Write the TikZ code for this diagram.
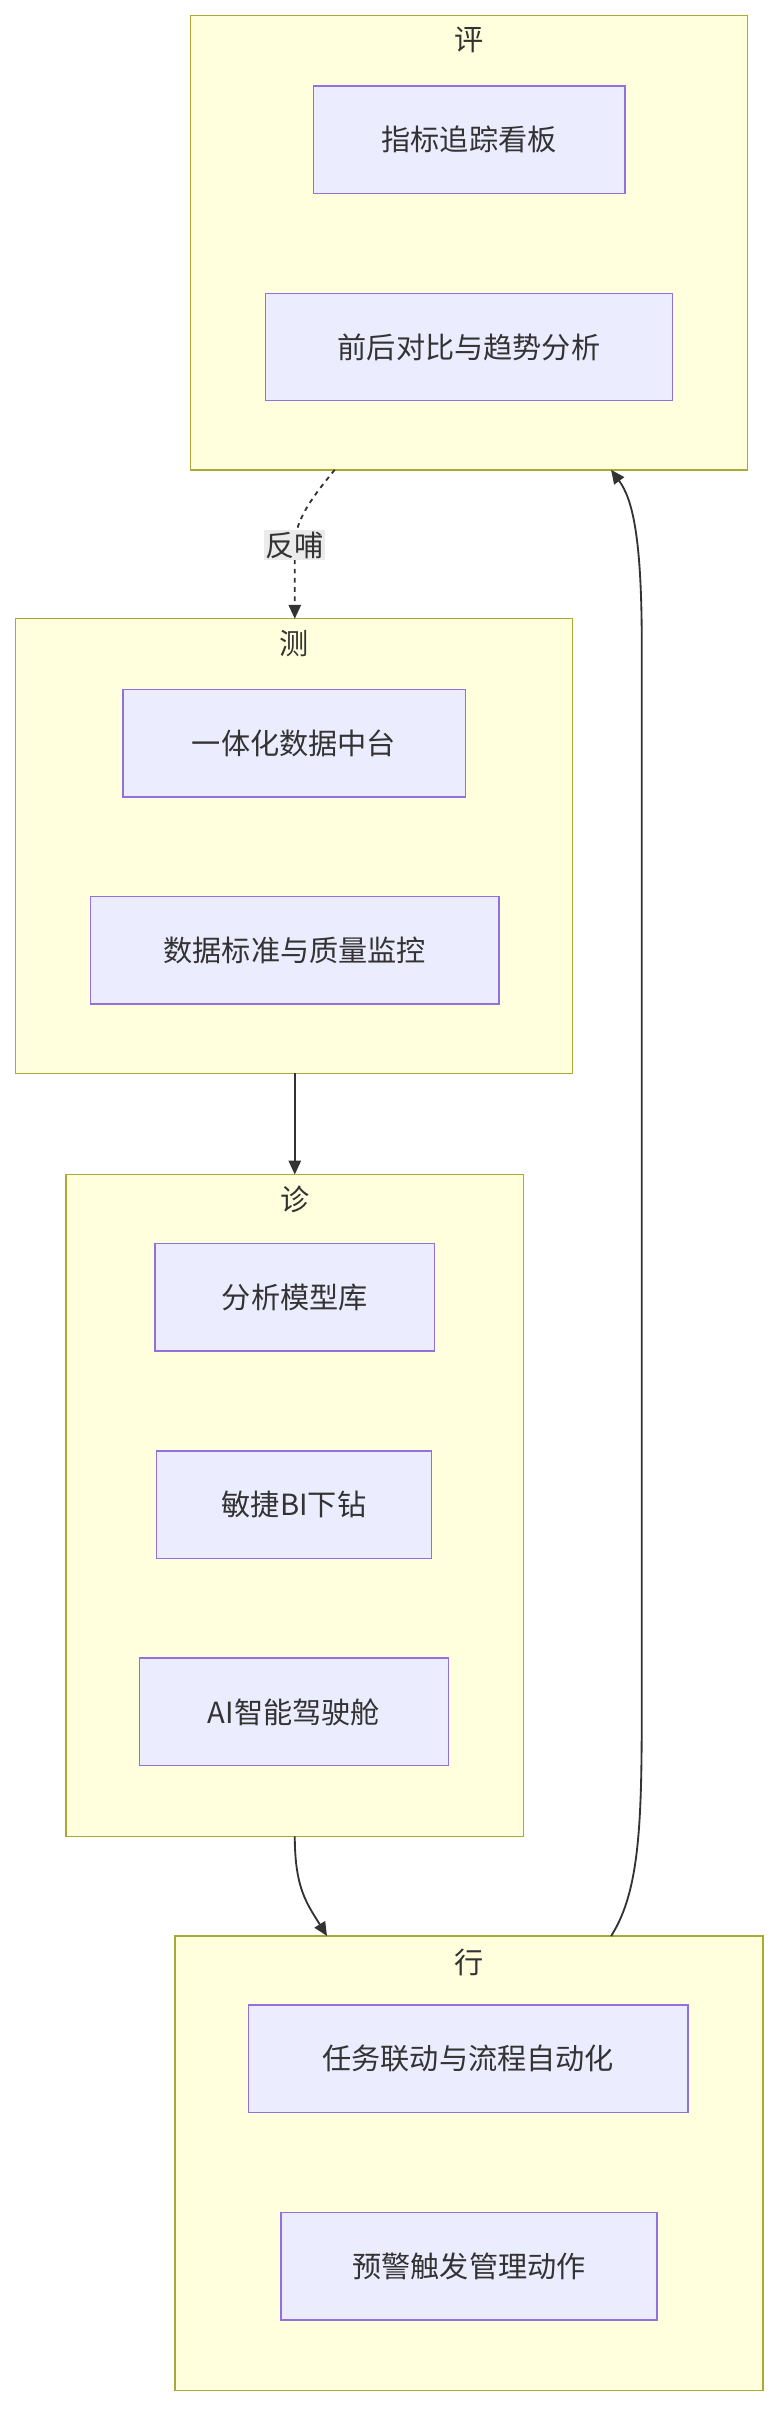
\documentclass[tikz,border=0pt]{standalone}
\usepackage{fontspec}
\newfontfamily\cjk{Noto Sans CJK SC}
\usetikzlibrary{arrows.meta}
\definecolor{clfill}{HTML}{FFFFDE}
\definecolor{cldraw}{HTML}{AAAA33}
\definecolor{ndfill}{HTML}{ECECFF}
\definecolor{nddraw}{HTML}{9370DB}
\definecolor{edge}{HTML}{333333}
\tikzset{
  clus/.style={draw=cldraw,fill=clfill,line width=0.9pt},
  box/.style={draw=nddraw,fill=ndfill,line width=0.9pt},
  lab/.style={font=\cjk\fontsize{19}{22}\selectfont,text=edge},
  conn/.style={draw=edge,line width=1.2pt,-{Triangle[length=9pt,width=8pt]}}
}
\begin{document}
\begin{tikzpicture}[x=1pt,y=-1pt]
\useasboundingbox (0,0) rectangle (508,1571);
% clusters
\draw[clus] (124,10) rectangle (487,306);
\node[lab] (tp) at (305.5,26) {评};
\draw[clus] (10,403) rectangle (373,699);
\node[lab] (tc) at (191.5,419) {测};
\draw[clus] (43,765) rectangle (341,1196);
\node[lab] (tz) at (192,781) {诊};
\draw[clus] (114,1261) rectangle (497,1557);
\node[lab] (tx) at (305.5,1278) {行};
% nodes
\draw[box] (204,56) rectangle (407,126); \node[lab] (n1) at (305.5,91) {指标追踪看板};
\draw[box] (173,191) rectangle (438,261); \node[lab] (n2) at (305.5,226) {前后对比与趋势分析};
\draw[box] (80,449) rectangle (303,519); \node[lab] (n3) at (191.5,484) {一体化数据中台};
\draw[box] (59,584) rectangle (325,654); \node[lab] (n4) at (192,619) {数据标准与质量监控};
\draw[box] (101,810) rectangle (283,880); \node[lab] (n5) at (192,845) {分析模型库};
\draw[box] (102,945) rectangle (281,1015); \node[lab] (n6) at (191.5,980) {敏捷BI下钻};
\draw[box] (91,1080) rectangle (292,1150); \node[lab] (n7) at (191.5,1115) {AI智能驾驶舱};
\draw[box] (162,1306) rectangle (448,1376); \node[lab] (n8) at (305,1341) {任务联动与流程自动化};
\draw[box] (183,1441) rectangle (428,1511); \node[lab] (n9) at (305.5,1476) {预警触发管理动作};
% anchor coordinates
\coordinate (pb) at (218,306);
\coordinate (ct) at (192,403);
\coordinate (cb) at (192,699);
\coordinate (zt) at (192,765);
\coordinate (zb) at (192,1196);
\coordinate (xt) at (213,1261);
\coordinate (xr) at (398,1261);
\coordinate (pr) at (398,306);
% edges
\draw[conn,dashed,dash pattern=on 3pt off 3pt] (pb) .. controls (205,322) and (192,338) .. (192,355) -- (ct);
\node[lab,fill=black!8,inner sep=1pt] (fb) at (192,355) {反哺};
\draw[conn] (cb) -- (zt);
\draw[conn] (zb) .. controls (192,1230) and (200,1240) .. (xt);
\draw[conn] (xr) .. controls (418,1230) and (418,1180) .. (418,1100) -- (418,420) .. controls (418,350) and (412,325) .. (pr);
\end{tikzpicture}
\end{document}
